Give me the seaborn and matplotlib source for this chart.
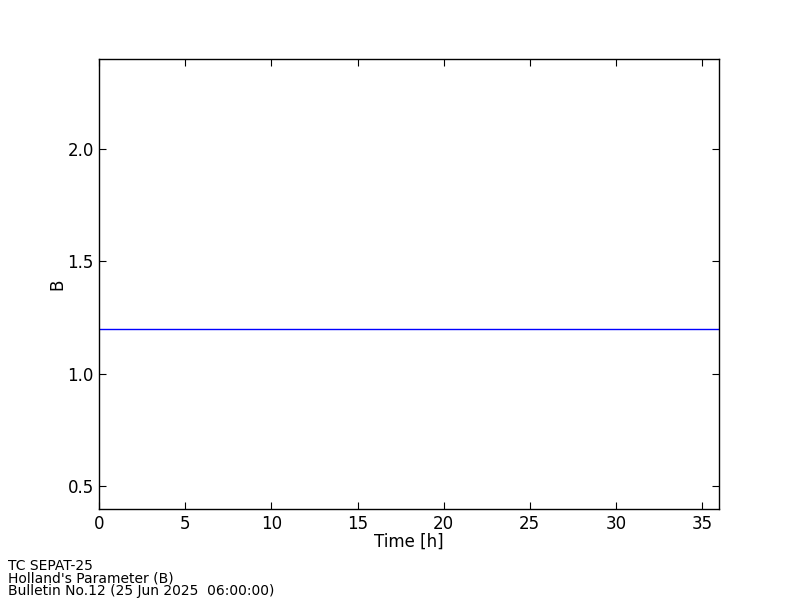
import pandas as pd
import matplotlib
matplotlib.use("Agg")
import matplotlib.pyplot as plt
import seaborn as sns

# --- Data ---
hours = [0, 6, 12, 18, 24, 30, 36]
b_values = [1.2, 1.2, 1.2, 1.2, 1.2, 1.2, 1.2]
x_ticks = [0, 5, 10, 15, 20, 25, 30, 35]
y_ticks = [0.5, 1.0, 1.5, 2.0]
footer_lines = ["TC SEPAT-25", "Holland's Parameter (B)", "Bulletin No.12 (25 Jun 2025  06:00:00)"]

df = pd.DataFrame({"Time [h]": hours, "B": b_values})

sns.set_style("ticks")
plt.rcParams['font.family'] = ['DejaVu Sans']
plt.rcParams['text.color'] = 'black'

fig = plt.figure(figsize=(8, 6), dpi=100)
ax = fig.add_axes([0.124, 0.1517, 0.775, 0.75])

sns.lineplot(data=df, x="Time [h]", y="B", color="blue", linewidth=1, ax=ax)

ax.set_xlim(0, 36)
ax.set_ylim(0.4, 2.4)
ax.set_xticks(x_ticks)
ax.set_yticks(y_ticks)
ax.set_yticklabels([f"{v:.1f}" for v in y_ticks])
ax.tick_params(direction="in", top=True, right=True, length=5, width=0.8,
               labelsize=12, pad=4, color="black", labelcolor="black")
ax.set_xlabel("Time [h]", fontsize=12, color="black", labelpad=0)
ax.set_ylabel("B", fontsize=12, color="black", labelpad=1)
for s in ax.spines.values():
    s.set_visible(True)
    s.set_color("black")
    s.set_linewidth(1)

fig.text(0.01, 0.003, "\n".join(footer_lines), fontsize=10, ha="left", va="bottom",
         linespacing=0.88, color="black")

fig.savefig("out.png", dpi=100, facecolor="white")
